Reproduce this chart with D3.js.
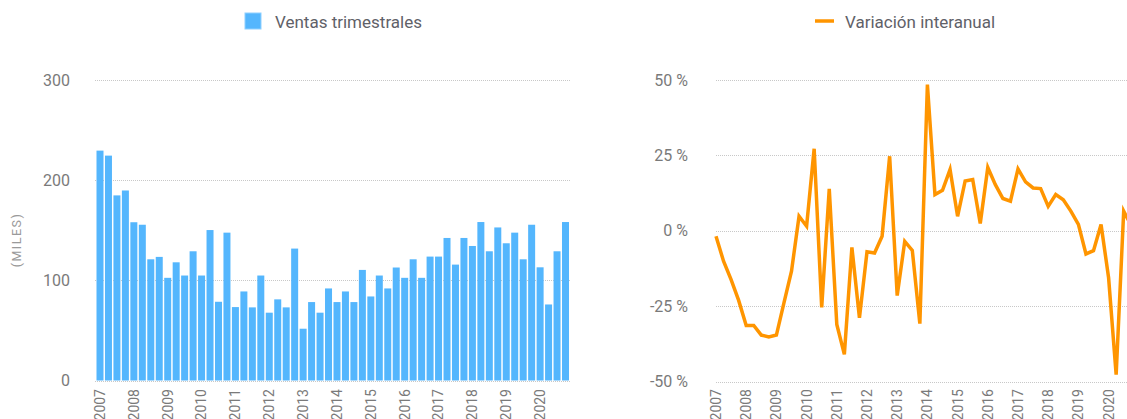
<!DOCTYPE html>
<html>
<head>
<meta charset="utf-8">
<script src="https://cdn.jsdelivr.net/npm/d3@7"></script>
<style>
  body { margin: 0; background: #fff; }
  svg { display: block; font-family: Roboto, "Open Sans", sans-serif; }
</style>
</head>
<body>
<script>
// quarterly data, 2007 Q1 .. 2020 Q4
var years = d3.range(2007, 2021);
var ventas = [
  229.5, 224.5, 184.8, 189.7,
  158.0, 155.5, 121.0, 123.4,
  102.5, 118.0, 104.8, 129.0,
  104.8, 150.2, 78.6, 147.6,
  73.3, 88.9, 73.0, 104.8,
  67.7, 81.0, 73.0, 131.7,
  51.7, 78.3, 67.7, 91.9,
  78.3, 88.9, 78.3, 110.4,
  83.9, 104.8, 91.9, 112.8,
  102.5, 121.0, 102.5, 123.7,
  123.7, 142.3, 115.7, 142.3,
  134.3, 158.2, 129.0, 152.8,
  137.0, 147.6, 121.0, 155.5,
  113.0, 75.9, 129.0, 158.2
];
var variacion = [
  -1.8, -10.1, -16.2, -23.1,
  -31.4, -31.4, -34.6, -35.2,
  -34.6, -23.9, -13.4, 4.8,
  1.5, 27.2, -25.4, 13.9,
  -31.1, -41.0, -5.5, -28.9,
  -7.0, -7.4, -1.8, 24.7,
  -21.5, -3.5, -6.5, -30.8,
  48.5, 12.0, 13.4, 20.3,
  4.8, 16.5, 17.0, 2.4,
  21.0, 15.3, 10.7, 9.8,
  20.5, 16.2, 14.2, 14.0,
  8.1, 12.0, 10.3, 6.5,
  2.1, -7.7, -6.6, 2.1,
  -15.6, -47.7, 6.5, 1.7
];
var ventasTicks = [0, 100, 200, 300];
var variacionTicks = [-50, -25, 0, 25, 50];

var width = 1127, height = 419;
var gridColor = "#c8c8c8", tickColor = "#7a7a7a", legendColor = "#5f6168";
var barColor = "#54b6fd", lineColor = "#ff9500";

var svg = d3.select("body").append("svg")
  .attr("width", width).attr("height", height);

function t(i) { return 2007 + i / 4; }

/* left chart: ventas trimestrales */
var x1 = d3.scaleLinear().domain([2007, 2020.75]).range([100, 565.5]);
var y1 = d3.scaleLinear().domain([0, 300]).range([380.5, 80]);

var left = svg.append("g").attr("class", "chart1");

left.selectAll("line.grid").data(ventasTicks).enter().append("line")
  .attr("class", "grid")
  .attr("x1", 95).attr("x2", 570)
  .attr("y1", function(d){ return Math.round(y1(d)) + 0.5; })
  .attr("y2", function(d){ return Math.round(y1(d)) + 0.5; })
  .style("stroke", gridColor).style("stroke-dasharray", "1,1");

left.selectAll("text.ytick").data(ventasTicks).enter().append("text")
  .attr("class", "ytick")
  .attr("x", 70).attr("y", function(d){ return y1(d); })
  .attr("dy", "0.35em").attr("text-anchor", "end")
  .style("font-size", "16px").style("fill", tickColor)
  .text(function(d){ return d; });

left.append("text")
  .attr("transform", "translate(21,240) rotate(-90)")
  .attr("text-anchor", "middle")
  .style("font-size", "12.5px").style("fill", "#9a9a9a")
  .style("letter-spacing", "1.5px")
  .text("(MILES)");

var bw = 7;
left.selectAll("rect.bar").data(ventas).enter().append("rect")
  .attr("class", "bar")
  .attr("x", function(d, i){ return x1(t(i)) - bw / 2; })
  .attr("width", bw)
  .attr("y", function(d){ return y1(d); })
  .attr("height", function(d){ return y1(0) - y1(d); })
  .style("fill", barColor);

left.selectAll("text.xtick").data(years).enter().append("text")
  .attr("class", "xtick")
  .attr("transform", function(d){ return "translate(" + x1(d) + ",389) rotate(-90)"; })
  .attr("dy", "0.35em").attr("text-anchor", "end")
  .style("font-size", "14px").style("fill", tickColor)
  .text(function(d){ return d; });

left.append("rect")
  .attr("x", 245).attr("y", 13).attr("width", 16).attr("height", 16)
  .style("fill", barColor).style("stroke", "#8fd0ff").style("stroke-width", 1);
left.append("text")
  .attr("x", 275).attr("y", 22).attr("dy", "0.35em")
  .style("font-size", "17px").style("fill", legendColor)
  .text("Ventas trimestrales");

/* right chart: variacion interanual */
var x2 = d3.scaleLinear().domain([2007, 2020.75]).range([716, 716 + 55 * 7.55]);
var y2 = d3.scaleLinear().domain([-50, 50]).range([381.5, 80]);

var right = svg.append("g").attr("class", "chart2");

right.selectAll("line.grid").data(variacionTicks).enter().append("line")
  .attr("class", "grid")
  .attr("x1", 716).attr("x2", width)
  .attr("y1", function(d){ return Math.round(y2(d)) + 0.5; })
  .attr("y2", function(d){ return Math.round(y2(d)) + 0.5; })
  .style("stroke", gridColor).style("stroke-dasharray", "1,1");

right.selectAll("text.ytick").data(variacionTicks).enter().append("text")
  .attr("class", "ytick")
  .attr("x", 688).attr("y", function(d){ return y2(d); })
  .attr("dy", "0.35em").attr("text-anchor", "end")
  .style("font-size", "16px").style("fill", tickColor)
  .text(function(d){ return d + " %"; });

var line = d3.line()
  .x(function(d, i){ return x2(t(i)); })
  .y(function(d){ return y2(d); });

right.append("path").datum(variacion)
  .attr("d", line)
  .style("fill", "none").style("stroke", lineColor)
  .style("stroke-width", 3.5).style("stroke-linejoin", "miter");

right.selectAll("text.xtick").data(years).enter().append("text")
  .attr("class", "xtick")
  .attr("transform", function(d){ return "translate(" + x2(d) + ",389) rotate(-90)"; })
  .attr("dy", "0.35em").attr("text-anchor", "end")
  .style("font-size", "14px").style("fill", tickColor)
  .text(function(d){ return d; });

right.append("line")
  .attr("x1", 815).attr("x2", 834).attr("y1", 21).attr("y2", 21)
  .style("stroke", lineColor).style("stroke-width", 3.5);
right.append("text")
  .attr("x", 845).attr("y", 22).attr("dy", "0.35em")
  .style("font-size", "17px").style("fill", legendColor)
  .text("Variación interanual");
</script>
</body>
</html>
